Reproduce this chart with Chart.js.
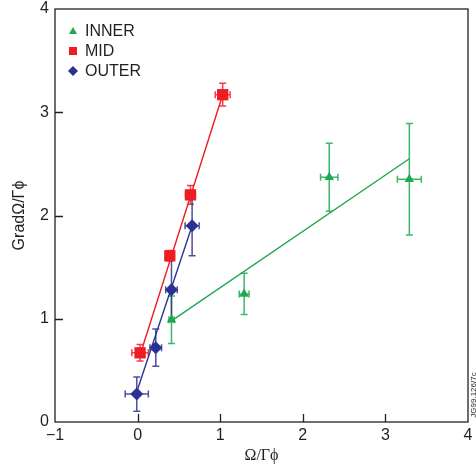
<!DOCTYPE html>
<html>
<head>
<meta charset="utf-8">
<script src="https://cdn.jsdelivr.net/npm/chart.js@4"></script>
<style>
  html, body { margin: 0; padding: 0; background: #fff; }
  #wrap { width: 476px; height: 468px; position: relative; }
</style>
</head>
<body>
<div id="wrap"><canvas id="c" width="476" height="468"></canvas></div>
<script>
// ---- data ----
const innerX    = [0.41, 1.29, 2.32, 3.29];
const innerY    = [0.99, 1.24, 2.37, 2.35];
const innerXErr = [0.03, 0.06, 0.105, 0.145];
const innerYErr = [0.23, 0.20, 0.33, 0.54];

const midX    = [0.03, 0.39, 0.64, 1.03];
const midY    = [0.67, 1.61, 2.20, 3.17];
const midXErr = [0.10, 0.04, 0.06, 0.09];
const midYErr = [0.08, 0.05, 0.09, 0.11];

const outerX    = [-0.01, 0.22, 0.41, 0.66];
const outerY    = [0.27, 0.72, 1.28, 1.90];
const outerXErr = [0.14, 0.07, 0.07, 0.085];
const outerYErr = [0.165, 0.18, 0.30, 0.29];

const innerFitX = [0.41, 3.29];
const innerFitY = [0.98, 2.55];
const midFitX   = [0.05, 1.03];
const midFitY   = [0.70, 3.17];
const outerFitX = [-0.03, 0.66];
const outerFitY = [0.245, 1.90];

const seriesNames = ['INNER', 'MID', 'OUTER'];
const xTicks = [-1, 0, 1, 2, 3, 4];
const yTicks = [0, 1, 2, 3, 4];
const xTitle = 'Ω/Γϕ';
const yTitle = 'GradΩ/Γϕ';
const sideNote = 'JG99.126/7c';

// ---- styles ----
const GREEN = '#1fa84f';
const RED = '#ee1c25';
const BLUE = '#2b3192';
const INK = '#231f20';
const SANS = '"Liberation Sans", Arial, sans-serif';
const SERIF = '"Liberation Serif", "Times New Roman", serif';

const pts = (xs, ys) => xs.map((x, i) => ({x: x, y: ys[i]}));

const errSets = [
  {x: innerX, y: innerY, xe: innerXErr, ye: innerYErr, color: GREEN},
  {x: midX, y: midY, xe: midXErr, ye: midYErr, color: RED},
  {x: outerX, y: outerY, xe: outerXErr, ye: outerYErr, color: BLUE}
];

const frame = {
  id: 'frame',
  beforeDatasetsDraw(chart) {
    const {ctx, scales: {x, y}} = chart;
    ctx.save();
    ctx.lineWidth = 1.5;
    errSets.forEach(s => {
      ctx.strokeStyle = s.color;
      ctx.globalAlpha = 0.85;
      s.x.forEach((xv, i) => {
        const px = x.getPixelForValue(xv), py = y.getPixelForValue(s.y[i]);
        const y1 = y.getPixelForValue(s.y[i] + s.ye[i]);
        const y2 = y.getPixelForValue(s.y[i] - s.ye[i]);
        const x1 = x.getPixelForValue(xv - s.xe[i]);
        const x2 = x.getPixelForValue(xv + s.xe[i]);
        ctx.beginPath();
        ctx.moveTo(px, y1); ctx.lineTo(px, y2);
        ctx.moveTo(px - 3.5, y1); ctx.lineTo(px + 3.5, y1);
        ctx.moveTo(px - 3.5, y2); ctx.lineTo(px + 3.5, y2);
        ctx.moveTo(x1, py); ctx.lineTo(x2, py);
        ctx.moveTo(x1, py - 3.5); ctx.lineTo(x1, py + 3.5);
        ctx.moveTo(x2, py - 3.5); ctx.lineTo(x2, py + 3.5);
        ctx.stroke();
      });
    });
    ctx.restore();
  },
  afterDraw(chart) {
    const {ctx, chartArea: a, scales: {x, y}} = chart;
    ctx.save();
    ctx.strokeStyle = INK;
    ctx.lineWidth = 1.3;
    ctx.strokeRect(a.left, a.top, a.right - a.left, a.bottom - a.top);
    ctx.beginPath();
    xTicks.slice(1, -1).forEach(v => {
      const px = Math.round(x.getPixelForValue(v)) + 0.5;
      ctx.moveTo(px, a.bottom); ctx.lineTo(px, a.bottom - 8);
    });
    yTicks.slice(1, -1).forEach(v => {
      const py = Math.round(y.getPixelForValue(v)) + 0.5;
      ctx.moveTo(a.left, py); ctx.lineTo(a.left + 8, py);
    });
    ctx.stroke();

    // legend
    const lx = a.left + 18, ly0 = a.top + 22, dy = 20;
    const colors = [GREEN, RED, BLUE];
    seriesNames.forEach((name, i) => {
      const cy = ly0 + i * dy;
      ctx.fillStyle = colors[i];
      ctx.beginPath();
      if (i === 0) {
        ctx.moveTo(lx, cy - 4); ctx.lineTo(lx + 4, cy + 3); ctx.lineTo(lx - 4, cy + 3);
      } else if (i === 1) {
        ctx.rect(lx - 4, cy - 4, 8, 8);
      } else {
        ctx.moveTo(lx, cy - 5); ctx.lineTo(lx + 5, cy); ctx.lineTo(lx, cy + 5); ctx.lineTo(lx - 5, cy);
      }
      ctx.closePath();
      ctx.fill();
      ctx.fillStyle = INK;
      ctx.font = '16px ' + SANS;
      ctx.textBaseline = 'middle';
      ctx.textAlign = 'left';
      ctx.fillText(name, lx + 12, cy + 1);
    });

    // small side note
    ctx.translate(474, 395);
    ctx.rotate(-Math.PI / 2);
    ctx.font = '8px ' + SANS;
    ctx.fillStyle = INK;
    ctx.textAlign = 'center';
    ctx.textBaseline = 'middle';
    ctx.fillText(sideNote, 0, 0);
    ctx.restore();
  }
};

new Chart(document.getElementById('c'), {
  type: 'scatter',
  data: {
    datasets: [
      {label: 'innerFit', data: pts(innerFitX, innerFitY), showLine: true, borderColor: GREEN, borderWidth: 1.4, pointRadius: 0},
      {label: 'midFit', data: pts(midFitX, midFitY), showLine: true, borderColor: RED, borderWidth: 1.4, pointRadius: 0},
      {label: 'outerFit', data: pts(outerFitX, outerFitY), showLine: true, borderColor: BLUE, borderWidth: 1.4, pointRadius: 0},
      {label: seriesNames[0], data: pts(innerX, innerY), pointStyle: 'triangle', pointRadius: 5.5, backgroundColor: GREEN, borderColor: GREEN, borderWidth: 0},
      {label: seriesNames[1], data: pts(midX, midY), pointStyle: 'rect', pointRadius: 8, backgroundColor: RED, borderColor: RED, borderWidth: 0},
      {label: seriesNames[2], data: pts(outerX, outerY), pointStyle: 'rectRot', pointRadius: 6.5, backgroundColor: BLUE, borderColor: BLUE, borderWidth: 0}
    ]
  },
  options: {
    responsive: false,
    animation: false,
    devicePixelRatio: 1,
    layout: {padding: {left: 0, top: 9, right: 7, bottom: 0}},
    plugins: {legend: {display: false}, tooltip: {enabled: false}},
    scales: {
      x: {
        type: 'linear', min: -1, max: 4,
        afterBuildTicks: s => { s.ticks = xTicks.map(v => ({value: v})); },
        afterFit: s => { s.height = 46; s.paddingLeft = 0; s.paddingRight = 0; },
        grid: {display: false, drawTicks: false},
        border: {display: false},
        ticks: {
          padding: 4, color: INK, font: {family: SANS, size: 16},
          maxRotation: 0, autoSkip: false,
          callback: v => String(v).replace('-', '\u2212')
        },
        title: {display: true, text: xTitle, color: INK, font: {family: SERIF, size: 16}, padding: {top: 0, bottom: 3}}
      },
      y: {
        type: 'linear', min: 0, max: 4,
        afterBuildTicks: s => { s.ticks = yTicks.map(v => ({value: v})); },
        afterFit: s => { s.width = 55; s.paddingTop = 0; s.paddingBottom = 0; },
        grid: {display: false, drawTicks: false},
        border: {display: false},
        ticks: {padding: 6, color: INK, font: {family: SANS, size: 16}, autoSkip: false},
        title: {display: true, text: yTitle, color: INK, font: {family: SANS, size: 16}, padding: {top: 10, bottom: 0}}
      }
    }
  },
  plugins: [frame]
});
</script>
</body>
</html>
